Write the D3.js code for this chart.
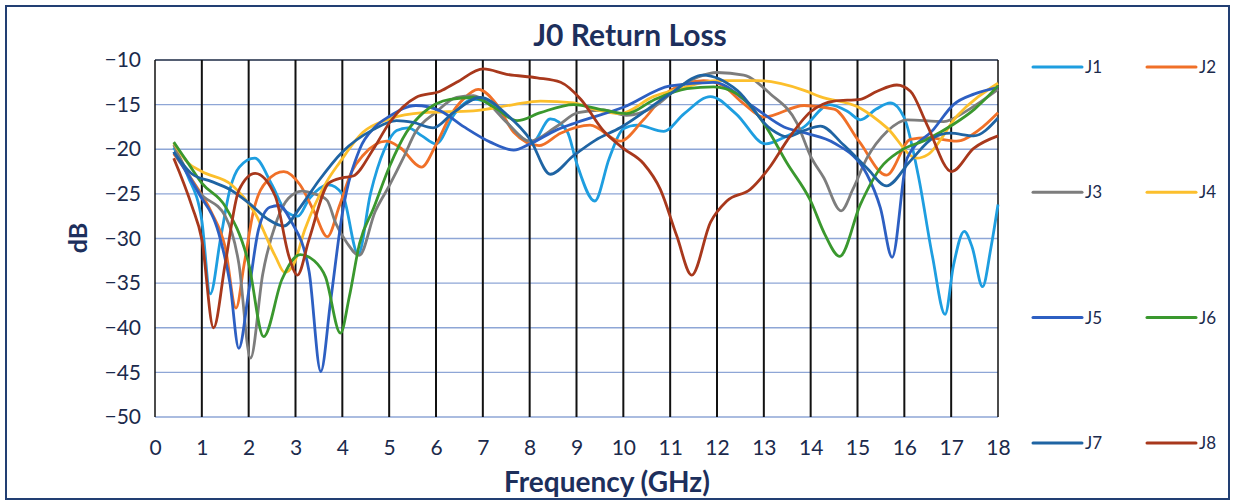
<!DOCTYPE html>
<html>
<head>
<meta charset="utf-8">
<script src="https://cdn.jsdelivr.net/npm/d3@7"></script>
<style>
  body { margin: 0; background: #fff; }
  text { font-family: Lato, "Open Sans", sans-serif; }
</style>
</head>
<body>
<div id="chart"></div>
<script>
// ---- DATA (frequency GHz, return loss dB) ---- //
var seriesNames = ["J1", "J2", "J3", "J4", "J5", "J6", "J7", "J8"];
var xTicks = [0,1,2,3,4,5,6,7,8,9,10,11,12,13,14,15,16,17,18];
var yTicks = [-10,-15,-20,-25,-30,-35,-40,-45,-50];

var j1 = [[0.4,-19.8],[0.7,-23],[1.0,-28],[1.18,-36.2],[1.4,-30],[1.6,-24.5],[1.8,-22],[2.13,-21.0],[2.5,-24],[2.8,-27],[3.05,-27.5],[3.3,-25.5],[3.7,-24],[4.0,-25],[4.34,-31.8],[4.6,-25],[4.9,-20],[5.16,-17.9],[5.4,-17.6],[5.7,-18.5],[6.0,-19.4],[6.4,-16],[6.8,-14.4],[7.2,-15],[7.6,-17.5],[8.05,-19.3],[8.44,-16.6],[8.8,-18],[9.0,-21.5],[9.39,-25.8],[9.7,-21],[10.0,-17.7],[10.3,-17.3],[10.86,-18.0],[11.3,-16],[11.86,-14.1],[12.4,-16],[13.04,-19.4],[13.5,-18.5],[13.86,-17.5],[14.4,-15],[14.8,-15.8],[15.06,-16.7],[15.4,-15.5],[15.7,-14.8],[16.0,-16.5],[16.3,-23],[16.6,-32],[16.87,-38.5],[17.05,-33],[17.28,-29.2],[17.45,-31],[17.67,-35.4],[17.85,-31],[18,-26.2]];
var j2 = [[0.4,-20.5],[0.8,-23.5],[1.2,-27],[1.5,-31],[1.73,-37.8],[1.9,-33],[2.1,-27],[2.4,-23.5],[2.75,-22.5],[3.1,-24],[3.4,-27],[3.68,-29.8],[3.94,-26.3],[4.2,-22.5],[4.44,-20.7],[4.94,-19.1],[5.23,-19.8],[5.69,-22.0],[6.0,-19.5],[6.3,-16.3],[6.6,-14.3],[6.9,-13.3],[7.3,-15],[7.66,-18.1],[8.2,-19.6],[8.66,-18.2],[9.29,-17.3],[9.93,-19.1],[10.43,-16.7],[11.0,-13.4],[11.71,-12.3],[12.1,-12.8],[12.57,-14.9],[13.0,-16.4],[13.86,-15.1],[14.5,-15.5],[15.03,-19.1],[15.62,-22.9],[16.13,-18.9],[16.48,-18.7],[17.12,-19.1],[17.6,-17.8],[18,-15.9]];
var j3 = [[0.4,-19.5],[0.93,-24.7],[1.5,-27.5],[1.79,-32.8],[2.04,-43.4],[2.3,-34],[2.6,-28],[2.85,-25.5],[3.14,-24.7],[3.4,-25],[3.67,-25.7],[3.86,-28.3],[4.1,-30.5],[4.36,-31.9],[4.7,-27],[5.0,-24.1],[5.3,-21],[5.56,-18.1],[5.99,-15.9],[6.44,-14.2],[6.8,-14.0],[7.1,-14.8],[7.51,-17.0],[8.0,-19.1],[8.59,-17.4],[9.03,-15.9],[9.57,-15.6],[10.07,-16.2],[10.64,-15.3],[11.2,-13.0],[11.6,-11.9],[12.0,-11.4],[12.57,-11.7],[13.14,-13.8],[13.71,-17.1],[14.0,-20.8],[14.28,-23.2],[14.65,-26.9],[14.9,-24.5],[15.2,-21.0],[15.63,-18.0],[16.06,-16.7],[16.84,-16.9],[17.33,-15.7],[18,-13.3]];
var j4 = [[0.4,-19.3],[0.7,-21.5],[1.0,-22.5],[1.64,-24.0],[2.14,-27.2],[2.57,-32],[2.77,-33.8],[2.95,-33],[3.2,-29],[3.67,-23.6],[3.94,-21.5],[4.44,-18.1],[5.01,-16.6],[5.73,-15.9],[6.8,-15.7],[7.66,-15.0],[8.23,-14.6],[8.94,-14.8],[9.43,-15.6],[9.93,-16.0],[10.64,-14.1],[11.21,-13.2],[12.0,-12.3],[12.86,-12.3],[13.86,-13.4],[14.2,-14.1],[15.06,-15.4],[15.63,-17.6],[16.27,-21.0],[16.5,-20.6],[17.12,-16.3],[18,-12.6]];
var j5 = [[0.4,-20.3],[0.93,-24.9],[1.36,-29.4],[1.6,-35],[1.79,-42.3],[2.0,-36],[2.21,-29],[2.45,-26.5],[2.65,-26.3],[2.9,-28],[3.29,-33.7],[3.54,-44.9],[3.75,-37],[4.0,-27.2],[4.37,-20.0],[4.7,-17.5],[5.01,-16.3],[5.57,-15.1],[6.09,-15.7],[6.6,-17.5],[7.16,-19.2],[7.66,-20.1],[8.01,-19.4],[8.59,-17.8],[9.0,-17.0],[10.0,-15.3],[11.0,-12.9],[11.93,-12.5],[12.79,-15.3],[13.43,-17.5],[13.9,-18.2],[14.5,-19.3],[15.2,-22.8],[15.49,-26.6],[15.74,-32.1],[16.06,-21.0],[16.62,-17.8],[17.05,-15.0],[17.5,-13.8],[18,-13.1]];
var j6 = [[0.4,-19.2],[0.7,-21.5],[1.0,-23.8],[1.5,-26.4],[2.0,-32.8],[2.32,-41.0],[2.71,-34.6],[3.1,-31.8],[3.4,-32.5],[3.64,-34.3],[3.96,-40.6],[4.15,-36.5],[4.37,-30.5],[4.66,-26.7],[5.01,-21.9],[5.37,-18.1],[5.73,-15.9],[6.3,-14.4],[6.8,-14.2],[7.3,-15.5],[7.73,-16.8],[8.23,-15.9],[8.94,-15.0],[9.57,-15.6],[10.07,-16.0],[10.64,-14.5],[11.36,-13.2],[11.93,-13.0],[12.43,-13.8],[13.0,-17.1],[13.5,-21.6],[14.0,-25.8],[14.3,-29.5],[14.62,-32.0],[15.06,-26.2],[15.49,-22.1],[15.91,-20.2],[16.48,-18.9],[17.05,-17.2],[17.5,-15.5],[18,-12.9]];
var j7 = [[0.4,-20.3],[0.8,-22.8],[1.2,-23.6],[1.6,-24.5],[2.0,-26],[2.4,-27.8],[2.75,-28.6],[3.1,-26.5],[3.5,-23.5],[4.0,-20.3],[4.66,-17.8],[5.16,-16.8],[5.51,-17.0],[5.94,-17.6],[6.37,-15.9],[6.94,-14.2],[7.51,-16.1],[8.01,-18.9],[8.44,-22.8],[8.94,-20.7],[9.4,-19],[9.93,-17.6],[11.0,-13.8],[11.7,-11.7],[12.43,-13.4],[13.14,-17.7],[13.5,-18.6],[13.86,-17.9],[14.21,-17.4],[14.7,-19.5],[15.2,-22.1],[15.62,-24.1],[16.13,-21.3],[16.62,-18.7],[16.98,-18.2],[17.48,-18.5],[18,-16.5]];
var j8 = [[0.4,-21.0],[0.79,-26.4],[1.0,-30.1],[1.25,-40.0],[1.5,-32.8],[1.79,-24.6],[2.14,-22.7],[2.57,-25.3],[2.86,-32],[3.04,-34.1],[3.29,-30.1],[3.71,-23.8],[4.0,-23.2],[4.23,-23.0],[4.66,-20],[5.01,-17.0],[5.57,-14.2],[6.09,-13.5],[6.44,-12.5],[7.01,-11.0],[7.51,-11.6],[8.16,-12.0],[8.66,-12.5],[9.09,-14.4],[9.57,-17.9],[10.0,-19.9],[10.43,-21.6],[10.79,-24.5],[11.14,-29.7],[11.46,-34.1],[11.86,-28.2],[12.21,-25.8],[12.71,-24.5],[13.14,-21.9],[13.5,-19],[14.0,-15.8],[14.5,-14.6],[15.06,-14.4],[15.42,-13.5],[15.84,-12.8],[16.13,-13.5],[16.48,-17.2],[17.01,-22.5],[17.48,-19.9],[18,-18.5]];

var seriesValues = [j1, j2, j3, j4, j5, j6, j7, j8];
var colors = ["#1e9ee0", "#f07028", "#7d7d7d", "#fcbf2c", "#2d5fc2", "#3a982e", "#1f64a3", "#a8381c"];

var width = 1235, height = 504;
var margin = {left: 155, right: 237, top: 60, bottom: 87};

var svg = d3.select("#chart")
    .append("svg")
    .attr("width", width)
    .attr("height", height);

// outer frame
svg.append("rect")
    .attr("x", 6).attr("y", 6)
    .attr("width", 1223).attr("height", 493)
    .attr("fill", "none")
    .attr("stroke", "#223f73")
    .attr("stroke-width", 2);

var x = d3.scaleLinear()
    .domain([0, 18])
    .range([margin.left, width - margin.right]);

var y = d3.scaleLinear()
    .domain([-50, -10])
    .range([height - margin.bottom, margin.top]);

// ---- GRID ---- //
svg.selectAll(".hgrid")
    .data(yTicks)
    .enter().append("line")
    .attr("class", "hgrid")
    .attr("x1", x(0)).attr("x2", x(18))
    .attr("y1", function(d) { return y(d); })
    .attr("y2", function(d) { return y(d); })
    .attr("stroke", function(d) { return d == -10 ? "#1c2a44" : "#8ea6d6"; })
    .attr("stroke-width", function(d) { return d == -10 ? 1.5 : 1.3; });

svg.selectAll(".vgrid")
    .data(xTicks)
    .enter().append("line")
    .attr("class", "vgrid")
    .attr("x1", function(d) { return x(d); })
    .attr("x2", function(d) { return x(d); })
    .attr("y1", y(-10)).attr("y2", y(-50))
    .attr("stroke", "#111")
    .attr("stroke-width", function(d) { return (d == 0 || d == 18) ? 1.5 : 2; });

// ---- AXES ---- //
var xAxis = d3.axisBottom(x).tickValues(xTicks).tickSize(0).tickPadding(23);
var yAxis = d3.axisLeft(y).tickValues(yTicks).tickSize(0).tickPadding(14);

var xAxisGroup = svg.append("g")
    .attr("transform", "translate(0," + y(-50) + ")")
    .call(xAxis);
var yAxisGroup = svg.append("g")
    .attr("transform", "translate(" + x(0) + ",0)")
    .call(yAxis);

[xAxisGroup, yAxisGroup].forEach(function(g) {
  g.select(".domain").remove();
  g.selectAll("text")
      .attr("fill", "#1b2a4c")
      .style("font-size", "21px")
      .style("font-family", "Lato, sans-serif");
});

// ---- LINES ---- //
var line = d3.line()
    .x(function(d) { return x(d[0]); })
    .y(function(d) { return y(d[1]); })
    .curve(d3.curveMonotoneX);

svg.selectAll(".series")
    .data(seriesValues)
    .enter().append("path")
    .attr("class", "series")
    .attr("d", line)
    .attr("fill", "none")
    .attr("stroke", function(d, i) { return colors[i]; })
    .attr("stroke-width", 2.8)
    .attr("stroke-linejoin", "round");

// ---- TITLES ---- //
svg.append("text")
    .attr("x", 630).attr("y", 46)
    .attr("text-anchor", "middle")
    .attr("fill", "#1d2f5c")
    .style("font-size", "30px")
    .style("font-weight", "bold")
    .text("J0 Return Loss");

svg.append("text")
    .attr("transform", "translate(87,238) rotate(-90)")
    .attr("text-anchor", "middle")
    .attr("fill", "#1d2f5c")
    .style("font-size", "25px")
    .style("font-weight", "bold")
    .text("dB");

svg.append("text")
    .attr("x", 607).attr("y", 492)
    .attr("text-anchor", "middle")
    .attr("fill", "#1d2f5c")
    .style("font-size", "28px")
    .style("font-weight", "bold")
    .text("Frequency (GHz)");

// ---- LEGEND ---- //
var legend = svg.selectAll(".legend")
    .data(seriesNames)
    .enter().append("g")
    .attr("class", "legend")
    .attr("transform", function(d, i) {
      return "translate(" + (1033 + (i % 2) * 114) + "," + (67 + Math.floor(i / 2) * 125.3) + ")";
    });

legend.append("line")
    .attr("x1", 0).attr("x2", 49)
    .attr("stroke", function(d, i) { return colors[i]; })
    .attr("stroke-width", 3)
    .attr("stroke-linecap", "round");

legend.append("text")
    .attr("x", 52).attr("dy", "0.35em")
    .attr("fill", "#1b2a4c")
    .style("font-size", "17px")
    .text(function(d) { return d; });
</script>
</body>
</html>
